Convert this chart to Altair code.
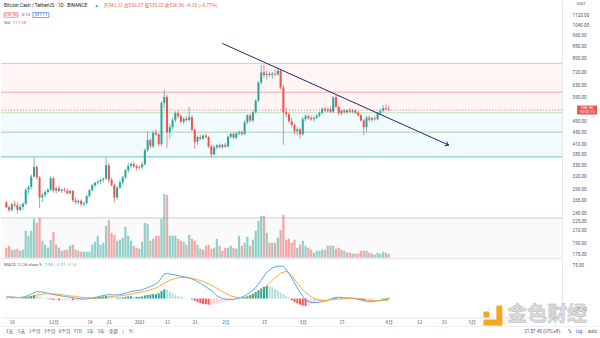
import altair as alt
import pandas as pd

# ---------------- data ----------------
day_idx = list(range(-2, 137))  # day offset from 16 Nov 2020

opens = [262,252,247,258,256,247,253,259,289,295,320,345,
         318,272,277,284,289,316,287,292,286,289,
         287,281,286,266,262,265,258,260,275,288,
         299,305,308,312,315,350,312,300,272,294,
         306,318,336,348,353,346,342,344,352,393,
         425,405,450,445,412,568,595,452,470,496,
         524,512,490,502,497,508,460,420,435,430,
         440,435,405,380,402,408,402,410,404,436,
         446,433,448,452,446,488,515,495,528,578,
         665,720,705,712,705,712,708,728,640,528,
         520,492,478,455,462,445,500,512,505,500,
         506,514,526,542,535,540,530,592,550,524,
         534,528,536,530,535,526,515,495,470,506,
         498,504,500,524,534,545,541.11]
highs = [265,256,262,265,262,258,262,292,300,325,372,350,
         322,282,288,292,322,320,296,298,292,294,
         292,290,289,272,268,268,263,278,290,302,
         308,312,314,318,373,356,318,303,298,312,
         322,340,356,358,360,352,350,360,398,455,
         432,458,462,448,575,630,605,480,505,532,
         535,520,508,512,550,515,465,440,442,445,
         446,440,410,408,412,414,412,416,440,450,
         452,452,458,458,495,520,522,535,585,672,
         762,765,730,725,722,735,745,735,655,548,
         528,505,485,470,466,508,520,518,515,512,
         520,530,548,552,548,552,598,604,556,540,
         542,540,545,542,540,532,520,500,512,515,
         510,512,530,540,558,560,556.67]
lows = [250,243,244,252,240,244,247,256,280,290,318,312,
        250,263,272,280,286,282,280,284,282,283,
        278,279,262,258,258,254,253,258,272,285,
        294,300,302,305,312,305,296,262,268,290,
        300,314,330,340,342,336,336,338,350,388,
        398,400,438,405,405,545,400,430,462,488,
        505,484,482,490,492,455,398,410,425,426,
        430,400,372,378,395,398,398,400,402,430,
        428,428,440,440,442,482,488,490,522,570,
        655,690,680,695,685,698,700,630,410,508,
        485,470,445,440,430,440,492,498,494,492,
        500,508,520,530,528,524,525,545,515,515,
        522,522,525,524,520,510,490,442,452,490,
        490,495,496,518,528,535,535.65]
closes = [252,247,258,256,247,253,259,289,295,320,345,318,
          272,277,284,289,316,287,292,286,289,287,
          281,286,266,262,265,258,260,275,288,299,
          305,308,312,315,350,312,300,272,294,306,
          318,336,348,353,346,342,344,352,393,425,
          405,450,445,412,568,595,452,470,496,524,
          512,490,502,497,508,460,420,435,430,440,
          435,405,380,402,408,402,410,404,436,446,
          433,448,452,446,488,515,495,528,578,665,
          720,705,712,705,712,708,728,640,528,520,
          492,478,455,462,445,500,512,505,500,506,
          514,526,542,535,540,530,592,550,524,534,
          528,536,530,535,526,515,495,470,506,498,
          504,500,524,534,545,541.11,536.96]
volumes_k = [200,240,160,160,180,140,160,540,440,540,780,700,
             800,340,260,200,360,520,260,200,140,160,
             160,240,260,160,140,120,120,120,120,260,
             320,440,260,300,640,760,500,460,340,360,
             400,620,440,340,240,200,180,320,700,680,
             340,380,440,440,780,1280,1260,440,440,440,
             380,340,320,260,460,380,340,260,180,160,
             240,260,180,200,380,240,140,200,200,240,
             200,180,440,240,300,420,240,360,540,740,
             840,840,500,300,300,300,400,560,860,360,
             380,300,360,200,260,340,240,200,160,100,
             140,140,160,160,240,240,240,180,200,160,
             140,100,100,80,80,80,140,140,140,100,
             80,60,100,80,120,100,77.11]
macd_hist = [1,0,-1,-1,0,0,1,3,4,6,8,7,
             4,2,1,-1,-2,-3,-3,-4,-4,-4,
             -4,-3,-4,-4,-4,-3,-3,-2,-1,1,
             2,3,4,5,6,5,3,2,2,2,
             3,4,5,5,4,4,4,5,7,8,
             9,10,10,12,17,21,20,16,12,9,
             6,4,2,1,0,-2,-5,-8,-10,-12,
             -13,-14,-14,-13,-12,-10,-8,-6,-5,-4,
             -2,-1,0,1,3,5,8,11,15,19,
             23,27,29,28,26,22,18,14,10,6,
             2,-4,-8,-11,-14,-16,-17,-15,-12,-9,
             -7,-5,-3,-2,-1,0,2,2,1,1,
             0.5,0.3,0.2,-0.5,-1,-2,-3,-5,-5,-5,
             -4,-2,-1,0.5,1,1.5,1.93]

macd_days = [-2,1,3,5,7,9,11,13,15,17,19,21,23,25,27,29,31,33,35,37,
             39,41,43,45,47,49,51,53,54,55,56,58,61,64,66,68,70,72,74,76,
             78,80,82,84,86,88,90,92,94,96,98,100,102,104,106,108,110,112,114,116,
             118,120,122,124,126,128,130,132,134,136]
macd_vals = [4,3,2,5,10,16,15,12,9,7,5,3,1,-1,-1,1,4,7,9,8,
             9,12,16,18,20,25,30,38,48,56,57,55,51,47,42,35,27,18,6,0,
             -2,-2,1,6,14,25,42,60,70,74,74,58,36,14,-4,-9,-9,-7,-4,1,
             3,2,1,0,-3,-7,-7,-5,-3,-1.21]
signal_days = [-2,1,3,5,7,9,11,13,15,17,19,21,23,25,27,29,31,33,35,37,
               39,41,43,45,47,49,51,53,55,57,59,61,63,65,67,69,71,73,75,77,
               79,81,83,85,87,89,91,93,95,97,99,101,103,105,107,109,111,113,115,117,
               119,121,123,125,127,129,131,133,135,136]
signal_vals = [3,3,2,3,5,8,10,11,11,10,8,6,5,3,2,1,1,2,4,5,
               6,8,10,13,15,18,22,27,35,42,46,48,48,46,43,39,33,27,20,12,
               6,3,2,3,6,12,22,36,48,58,62,52,36,20,8,0,-4,-5,-3,-2,
               -1,0,1,0,-2,-4,-5,-5,-4,-3.14]

x_tick_days = [0, 15, 28, 35, 46, 56, 66, 77, 91, 105, 119, 136, 147, 156, 166]
x_tick_labels = ["16", "12月", "14", "21", "2021", "11", "21", "2月", "15",
                 "3月", "15", "4月", "12", "21", "5月"]
price_ticks = [1120, 1040, 960, 880, 800, 720, 650, 590, 490, 450, 410, 380,
               350, 320, 290, 265, 240, 225, 210, 190, 175]
macd_ticks = [75, 50, 25, 0, -25]

level_prices = [772, 617, 526, 452, 373, 232]
level_colors = ["#c9ccd2", "#f3a9a9", "#bfe2c1", "#a6d7a9", "#74c4bb", "#b0d5ec"]
band_top = [772, 526, 232]
band_bottom = [526, 373, 170.3]
band_colors = ["#fff5f5", "#f1fafc", "#fbfafa"]

trend_days = [76, 157.6]
trend_prices = [901, 409]

bid_ask = ["536.96", "0.15", "537.11"]
countdown = "10:02:15"
vol_label = "77.11K"

toolbar_items = ["1天", "5天", "1个月", "3个月", "6个月", "YTD", "1年", "5年", "全部", "|", "↻"]
toolbar_x = [5, 17, 28, 43, 58, 73, 86, 97, 108, 122, 128]

assert all(len(a) == len(day_idx) for a in [opens, highs, lows, closes, volumes_k, macd_hist])
assert len(macd_days) == len(macd_vals) and len(signal_days) == len(signal_vals)

# ---------------- layout constants ----------------
W = 563
H_PRICE = 258
H_MACD = 59
X_DOMAIN = [-2.12, 196.8]
PRICE_DOMAIN = [170.3, 1258]
VOL_DOMAIN = [0, 5160]
MACD_DOMAIN = [-43.2, 90.9]
UP, DOWN = "#26a69a", "#ef5350"
LATIN = "Roboto"
CJK = "Noto Sans CJK SC"

df = pd.DataFrame({"day": day_idx, "open": opens, "high": highs, "low": lows,
                   "close": closes, "vol": volumes_k, "hist": macd_hist})
df["dir"] = ["up" if c >= o else "down" for o, c in zip(df.open, df.close)]
prev = [0] + macd_hist[:-1]
hcol = []
for h, p in zip(macd_hist, prev):
    if h >= 0:
        hcol.append("#26a69a" if h >= p else "#b2dfdb")
    else:
        hcol.append("#ff5252" if h < p else "#ffcdd2")
df["hcol"] = hcol

df_last = df.tail(1).copy()
df_last["label"] = f"{closes[-1]:.2f}"
df_last["cd"] = countdown

df_levels = pd.DataFrame({"price": level_prices, "color": level_colors})
df_bands = pd.DataFrame({"top": band_top, "bottom": band_bottom, "color": band_colors})
df_trend = pd.DataFrame({"day": trend_days, "price": trend_prices})
df_macd = pd.DataFrame({"day": macd_days, "v": macd_vals})
df_sig = pd.DataFrame({"day": signal_days, "v": signal_vals})

xs = alt.Scale(domain=X_DOMAIN, nice=False, zero=False)
ps = alt.Scale(type="log", domain=PRICE_DOMAIN, nice=False, zero=False)
ms = alt.Scale(domain=MACD_DOMAIN, nice=False, zero=False)
x_enc = alt.X("day:Q", scale=xs, axis=None)
dir_color = alt.Color("dir:N", scale=alt.Scale(domain=["up", "down"], range=[UP, DOWN]), legend=None)

price_axis = alt.Axis(orient="right", values=price_ticks, format=".2f", labelFontSize=4.6,
                      labelColor="#50535e", labelFont=LATIN, ticks=False, domain=True,
                      domainColor="#e0e3eb", grid=False, labelPadding=10, labelOverlap=False,
                      title=None)

bands = alt.Chart(df_bands).mark_rect().encode(
    x=alt.value(0), x2=alt.value(W),
    y=alt.Y("top:Q", scale=ps, axis=None), y2="bottom:Q",
    color=alt.Color("color:N", scale=None))

levels = alt.Chart(df_levels).mark_rule(strokeWidth=1).encode(
    y=alt.Y("price:Q", scale=ps, axis=None), color=alt.Color("color:N", scale=None))

vol = alt.Chart(df).mark_bar(size=2.2, opacity=0.5).encode(
    x=x_enc, y=alt.Y("vol:Q", scale=alt.Scale(domain=VOL_DOMAIN, nice=False), axis=None),
    color=dir_color)

price_line = alt.Chart(df_last).mark_rule(strokeDash=[1, 2], strokeWidth=0.8, color=DOWN).encode(
    y=alt.Y("close:Q", scale=ps, axis=None))

wicks = alt.Chart(df).mark_rule(strokeWidth=0.7).encode(
    x=x_enc, y=alt.Y("low:Q", scale=ps, axis=None), y2="high:Q", color=dir_color)

bodies = alt.Chart(df).mark_bar(size=2).encode(
    x=x_enc, y=alt.Y("open:Q", scale=ps, axis=price_axis), y2="close:Q", color=dir_color)

trend = alt.Chart(df_trend).mark_line(color="#1e2a5e", strokeWidth=1).encode(
    x=x_enc, y=alt.Y("price:Q", scale=ps, axis=None))
arrow = alt.Chart(df_trend.tail(1)).mark_point(
    shape="M-1,-0.7L0,0L-1,0.7", size=40, filled=False, strokeWidth=1,
    color="#1e2a5e", angle=23.8, opacity=1).encode(
    x=x_enc, y=alt.Y("price:Q", scale=ps, axis=None))

box = alt.Chart(df_last).mark_point(
    shape="M-1,-0.45L1,-0.45L1,0.45L-1,0.45Z", size=400, filled=True,
    color=DOWN, opacity=1, strokeWidth=0).encode(
    x=alt.value(588), y=alt.Y("close:Q", scale=ps, axis=None))
box_t1 = alt.Chart(df_last).mark_text(color="white", fontSize=4.2, font=LATIN, dy=-2).encode(
    x=alt.value(588), y=alt.Y("close:Q", scale=ps, axis=None), text="label:N")
box_t2 = alt.Chart(df_last).mark_text(color="white", fontSize=4.0, font=LATIN, dy=2.4).encode(
    x=alt.value(588), y=alt.Y("close:Q", scale=ps, axis=None), text="cd:N")

chg = closes[-1] - closes[-2]
pct = chg / closes[-2] * 100
ohlc_text = (f"开{opens[-1]:.2f} 高{highs[-1]:.2f} 低{lows[-1]:.2f} "
             f"收{closes[-1]:.2f} {chg:+.2f} ({pct:+.2f}%)").replace("-", "−")

def txt(s, x, y, color="#131722", size=4.8, font=LATIN, align="left", weight="normal"):
    return alt.Chart(pd.DataFrame({"t": [s]})).mark_text(
        align=align, baseline="middle", color=color, fontSize=size, font=font,
        fontWeight=weight).encode(x=alt.value(x), y=alt.value(y), text="t:N")

def boxmark(x, y, size, color):
    return alt.Chart(pd.DataFrame({"t": [0]})).mark_point(
        shape="M-1,-0.32L1,-0.32L1,0.32L-1,0.32Z", size=size, filled=False,
        color=color, strokeWidth=0.6, opacity=1).encode(x=alt.value(x), y=alt.value(y))

header = [
    txt("Bitcoin Cash / TetherUS · 1D · BINANCE", 3, 5.5, "#131722", 4.8),
    alt.Chart(pd.DataFrame({"t": [0]})).mark_point(filled=True, size=5, color=UP, opacity=1).encode(
        x=alt.value(96), y=alt.value(5.5)),
    txt(ohlc_text, 103, 5.5, DOWN, 4.8, CJK),
    boxmark(10, 14.5, 196, DOWN), txt(bid_ask[0], 10, 14.5, DOWN, 4.2, LATIN, "center"),
    txt(bid_ask[1], 21, 14.5, "#50535e", 4.2),
    boxmark(40, 14.5, 256, "#2962ff"), txt(bid_ask[2], 40, 14.5, "#2962ff", 4.2, LATIN, "center"),
    txt("Vol", 3, 23, "#50535e", 4.4),
    txt(vol_label, 11.5, 23, DOWN, 4.4),
    txt("USDT", 582, 3.5, "#50535e", 3.8, LATIN, "center"),
]

price_panel = alt.layer(bands, levels, vol, price_line, wicks, bodies, trend, arrow,
                        box, box_t1, box_t2, *header).resolve_scale(y="independent").properties(
    width=W, height=H_PRICE)

# ---------------- MACD panel ----------------
label_expr = ""
for d, l in zip(x_tick_days, x_tick_labels):
    label_expr += f"datum.value == {d} ? '{l}' : "
label_expr += "''"

x_axis = alt.Axis(values=x_tick_days, labelExpr=label_expr, labelFontSize=4.6, labelColor="#50535e",
                  labelFont=CJK, ticks=False, domain=True, domainColor="#e0e3eb", grid=False,
                  labelPadding=2, title=None, labelOverlap=False)
macd_axis = alt.Axis(orient="right", values=macd_ticks, format=".2f", labelFontSize=4.6,
                     labelColor="#50535e", labelFont=LATIN, ticks=False, domain=True,
                     domainColor="#e0e3eb", grid=False, labelPadding=10, title=None,
                     labelOverlap=False)

hist = alt.Chart(df).mark_bar(size=2).encode(
    x=alt.X("day:Q", scale=xs, axis=x_axis),
    y=alt.Y("hist:Q", scale=ms, axis=macd_axis),
    color=alt.Color("hcol:N", scale=None))
macd_line = alt.Chart(df_macd).mark_line(color="#2196f3", strokeWidth=0.8).encode(
    x=alt.X("day:Q", scale=xs), y=alt.Y("v:Q", scale=ms))
sig_line = alt.Chart(df_sig).mark_line(color="#ff9800", strokeWidth=0.8).encode(
    x=alt.X("day:Q", scale=xs), y=alt.Y("v:Q", scale=ms))

sep = alt.Chart(pd.DataFrame({"t": [0]})).mark_rule(color="#e0e3eb", strokeWidth=1).encode(
    x=alt.value(0), x2=alt.value(W), y=alt.value(0))
sep2 = alt.Chart(pd.DataFrame({"t": [0]})).mark_rule(color="#eef0f3", strokeWidth=1).encode(
    x=alt.value(0), x2=alt.value(600), y=alt.value(68))

macd_texts = [
    txt("MACD 12 26 close 9", 3, 6, "#50535e", 4.2),
    txt(f"{macd_hist[-1]:.2f}", 44, 6, "#26a69a", 4.2),
    txt(f"{macd_vals[-1]:.2f}".replace("-", "−"), 54, 6, "#2196f3", 4.2),
    txt(f"{signal_vals[-1]:.2f}".replace("-", "−"), 65, 6, "#ff9800", 4.2),
]

toolbar = [txt(t, x, 74, "#50535e", 4.6, CJK) for t, x in zip(toolbar_items, toolbar_x)]
toolbar += [
    txt("21:57:45 (UTC+8)", 525, 74, "#50535e", 4.6),
    txt("|", 561, 74, "#d1d4dc", 4.6),
    txt("%", 569, 74, "#50535e", 4.6),
    txt("log", 577, 74, "#2962ff", 4.6),
    txt("auto", 589, 74, "#50535e", 4.6),
]

def orect(x1, x2, y1, y2, color, r=0):
    return alt.Chart(pd.DataFrame({"t": [0]})).mark_rect(color=color, cornerRadius=r).encode(
        x=alt.value(x1), x2=alt.value(x2), y=alt.value(y1), y2=alt.value(y2))

watermark = [
    orect(484, 490, 53, 59, "#f5a623", 1),
    orect(497, 503, 47, 67, "#f5a623", 1),
    orect(484, 503, 61, 67, "#f5a623", 1),
    alt.Chart(pd.DataFrame({"t": ["金色财经"]})).mark_text(
        align="left", baseline="middle", fontSize=20, font=CJK, fontWeight="bold",
        color="#dadada", stroke="#a9a9a9", strokeWidth=0.4, opacity=0.9).encode(
        x=alt.value(508), y=alt.value(57), text="t:N"),
]

macd_panel = alt.layer(hist, macd_line, sig_line, sep, sep2, *macd_texts, *toolbar,
                       *watermark).properties(width=W, height=H_MACD)

chart = alt.vconcat(price_panel, macd_panel, spacing=0).properties(
    padding=0, background="white").configure_view(stroke=None)

chart.save("out.html", embed_options={"renderer": "svg", "actions": False})
